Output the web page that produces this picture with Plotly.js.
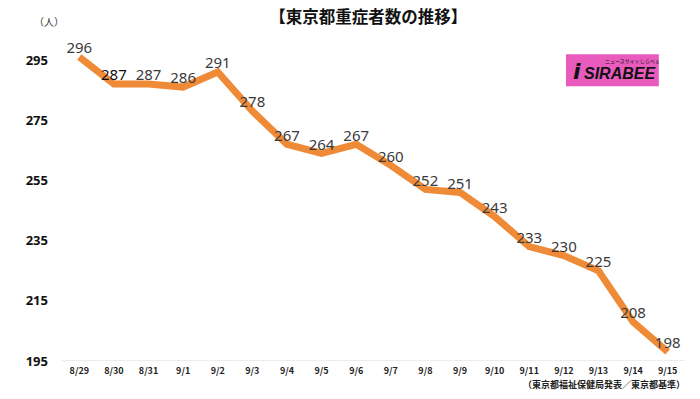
<!DOCTYPE html>
<html><head><meta charset="utf-8">
<script src="https://cdn.plot.ly/plotly-3.0.1.min.js"></script>
<style>body{margin:0;background:#fff}#c{width:700px;height:399px}</style>
</head><body><div id="c"></div>
<script>
const dates = ["8/29","8/30","8/31","9/1","9/2","9/3","9/4","9/5","9/6","9/7","9/8","9/9","9/10","9/11","9/12","9/13","9/14","9/15"];
const patients = [296,287,287,286,291,278,267,264,267,260,252,251,243,233,230,225,208,198];
const yTicks = [195,215,235,255,275,295];
const font = "'Noto Sans CJK JP', 'Noto Sans', sans-serif";

const labelColors = patients.map((v, i) => i === 1 ? "#111" : "#3a3a3a");

const trace = {
  x: dates, y: patients, type: "scatter", mode: "lines+text",
  line: {color: "#EF8A37", width: 7},
  text: patients.map(String),
  textposition: "top center",
  textfont: {family: "'Noto Sans', sans-serif", size: 15, color: labelColors},
  cliponaxis: false, hoverinfo: "skip"
};

const layout = {
  width: 700, height: 399,
  margin: {l: 62, r: 15, t: 38, b: 38},
  paper_bgcolor: "#fff", plot_bgcolor: "#fff",
  showlegend: false,
  title: {text: "<b>【東京都重症者数の推移】</b>", x: 0.526, xanchor: "center", y: 0.958, yanchor: "middle",
          font: {family: font, size: 16.5, color: "#111"}},
  xaxis: {type: "category", range: [-0.5, dates.length - 0.5], showgrid: false, zeroline: false, showline: false, automargin: false,
          ticks: "", tickfont: {family: font, size: 9, color: "#222", weight: "bold"}, ticklabelstandoff: 3},
  yaxis: {range: [195, 302.3], tickvals: yTicks, showgrid: false, zeroline: false, showline: false, automargin: false,
          tickfont: {family: "'Noto Sans', sans-serif", size: 13, color: "#111", weight: "bold"}, ticklabelstandoff: 13},
  shapes: [
    {type: "line", xref: "paper", yref: "y", x0: 0, x1: 1, y0: 195, y1: 195, line: {color: "#d9d9d9", width: 1}},
    {type: "rect", xref: "paper", yref: "paper", x0: 0.809, x1: 0.958, y0: 0.950, y1: 0.851, fillcolor: "#E95CBE", line: {width: 0}}
  ],
  annotations: [
    {text: "（人）", xref: "paper", yref: "paper", x: -0.021, xanchor: "center", y: 1.050, yanchor: "middle", showarrow: false,
     font: {family: font, size: 10, color: "#333"}},
    {text: "（東京都福祉保健局発表／東京都基準）", xref: "paper", yref: "paper", x: 1.004, xanchor: "right", y: -0.074, yanchor: "middle", showarrow: false,
     font: {family: font, size: 9, color: "#222", weight: "bold"}},
    {text: "<b><i>i</i></b>", xref: "paper", yref: "paper", x: 0.826, xanchor: "center", y: 0.895, yanchor: "middle", showarrow: false,
     font: {family: "'DejaVu Sans', sans-serif", size: 22, color: "#111"}},
    {text: "<b><i>SIRABEE</i></b>", xref: "paper", yref: "paper", x: 0.896, xanchor: "center", y: 0.890, yanchor: "middle", showarrow: false,
     font: {family: "'Liberation Sans', sans-serif", size: 16, color: "#111"}},
    {text: "ニュースサイトしらべぇ", xref: "paper", yref: "paper", x: 0.915, xanchor: "center", y: 0.930, yanchor: "middle", showarrow: false,
     font: {family: font, size: 5, color: "#111"}}
  ]
};
Plotly.newPlot("c", [trace], layout, {displayModeBar: false, staticPlot: true});
</script></body></html>
